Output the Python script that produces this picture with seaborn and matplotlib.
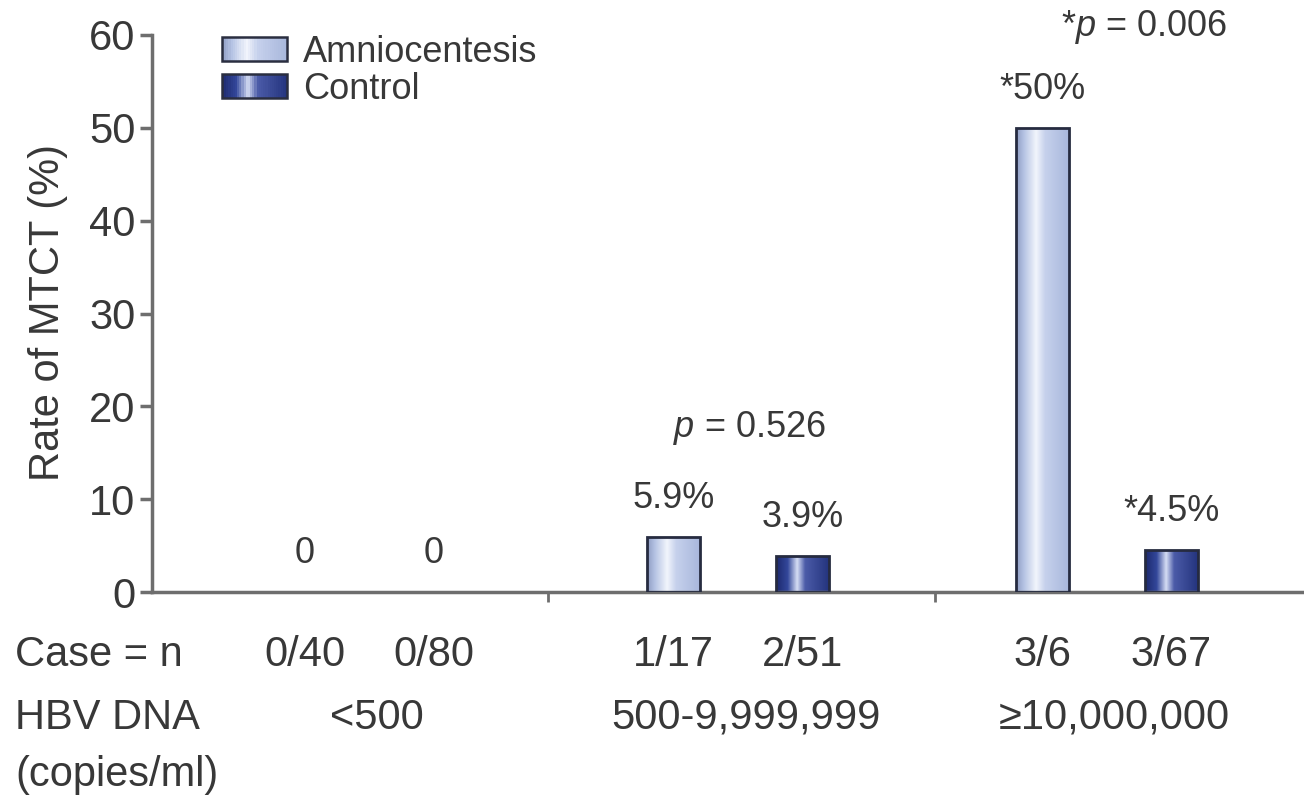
import numpy as np
import pandas as pd
import seaborn as sns
import matplotlib.pyplot as plt
from matplotlib.colors import LinearSegmentedColormap
from matplotlib.patches import Rectangle
from matplotlib.legend_handler import HandlerBase
from matplotlib.transforms import blended_transform_factory


groups = ['<500', '500-9,999,999', '≥10,000,000']
series = ['Amniocentesis', 'Control']
amnio_rate = [0, 5.9, 50]
control_rate = [0, 3.9, 4.5]
amnio_cases = ['0/40', '1/17', '3/6']
control_cases = ['0/80', '2/51', '3/67']
amnio_labels = ['0', '5.9%', '*50%']
control_labels = ['0', '3.9%', '*4.5%']
p_texts = [r'$\it{p}$ = 0.526', r'*$\it{p}$ = 0.006']

TXT = '#383838'
AX = '#6e6e6e'

amnio_cmap = LinearSegmentedColormap.from_list(
    'amnio', [(0, '#8e9cc2'), (0.15, '#b5c3e4'), (0.38, '#f2f5fc'),
              (0.55, '#c6d1ec'), (1, '#a8b7dc')])
control_cmap = LinearSegmentedColormap.from_list(
    'control', [(0, '#1c286c'), (0.22, '#33479a'), (0.4, '#d6def4'),
                (0.55, '#4b5ba8'), (1, '#24347e')])
cmaps = [amnio_cmap, control_cmap]


class GradientHandler(HandlerBase):
    def __init__(self, cmap):
        super().__init__()
        self.cmap = cmap

    def create_artists(self, legend, orig_handle, xdescent, ydescent,
                       width, height, fontsize, trans):
        n = 30
        arts = []
        for i in range(n):
            arts.append(Rectangle((-xdescent + width * i / n, -ydescent),
                                  width / n * 1.1, height,
                                  facecolor=self.cmap((i + 0.5) / n),
                                  edgecolor='none', transform=trans))
        arts.append(Rectangle((-xdescent, -ydescent), width, height,
                              facecolor='none', edgecolor='#2a2e40',
                              lw=1.8, transform=trans))
        return arts


sns.set_style('white')
plt.rcParams['font.family'] = ['Liberation Sans', 'DejaVu Sans']
plt.rcParams['mathtext.fontset'] = 'custom'
plt.rcParams['mathtext.it'] = 'Liberation Sans:italic'
plt.rcParams['mathtext.rm'] = 'Liberation Sans'

df = pd.DataFrame({
    'group': groups * 2,
    'series': [series[0]] * 3 + [series[1]] * 3,
    'rate': amnio_rate + control_rate,
})

fig = plt.figure(figsize=(13.04, 7.95), dpi=100)
ax = fig.add_axes([152 / 1304, 203 / 795, 1 - 152 / 1304, 557 / 795])

sns.barplot(df, x='group', y='rate', hue='series', hue_order=series,
            width=0.7, gap=0.59, ax=ax, legend=False,
            edgecolor='#262b40', linewidth=2)

# gradient fill clipped to each bar
for cont, cmap in zip(ax.containers, cmaps):
    for bar in cont:
        h = bar.get_height()
        if h <= 0:
            bar.set_visible(False)
            continue
        x0, w = bar.get_x(), bar.get_width()
        bar.set_facecolor('none')
        bar.set_zorder(3)
        grad = np.linspace(0, 1, 256)[None, :]
        im = ax.imshow(grad, extent=(x0, x0 + w, 0, h), cmap=cmap,
                       aspect='auto', zorder=2, interpolation='bilinear')
        im.set_clip_path(bar)

ax.set_xlim(-0.59, 2.535)
ax.set_ylim(0, 60)
ax.set_yticks(range(0, 61, 10))
ax.set_xticks([0.485, 1.535])
ax.set_xticklabels(['', ''])
ax.set_xlabel('')
ax.set_ylabel('')

for s in ['top', 'right']:
    ax.spines[s].set_visible(False)
for s in ['left', 'bottom']:
    ax.spines[s].set_color(AX)
    ax.spines[s].set_linewidth(2.5)
ax.tick_params(axis='y', length=9, width=2.5, color=AX, labelsize=30,
               labelcolor=TXT, pad=3, left=True)
ax.tick_params(axis='x', length=7, width=2, color=AX, bottom=True)

# value labels above bars
for cont, labs in zip(ax.containers, [amnio_labels, control_labels]):
    ax.bar_label(cont, labels=labs, padding=15, fontsize=26, color=TXT)

ax.text(1.03, 17.7, p_texts[0], fontsize=26, color=TXT, ha='center', va='center')
ax.text(2.10, 60.9, p_texts[1], fontsize=26, color=TXT, ha='center',
        va='center', clip_on=False)

# rows below the axis
trans = blended_transform_factory(ax.transData, fig.transFigure)
for cont, cases in zip(ax.containers, [amnio_cases, control_cases]):
    for bar, c in zip(cont, cases):
        ax.text(bar.get_x() + bar.get_width() / 2, 0.176, c, transform=trans,
                fontsize=30, color=TXT, ha='center', va='center')
for i, g in enumerate(groups):
    ax.text(i + 0.02, 0.097, g, transform=trans, fontsize=30, color=TXT,
            ha='center', va='center')

fig.text(15 / 1304, 0.176, 'Case = n', fontsize=30, color=TXT, va='center')
fig.text(15 / 1304, 0.097, 'HBV DNA', fontsize=30, color=TXT, va='center')
fig.text(15 / 1304, 0.025, '(copies/ml)', fontsize=30, color=TXT, va='center')
fig.text(48 / 1304, 0.607, 'Rate of MTCT (%)', fontsize=30, color=TXT,
         rotation=90, ha='center', va='center')

handles = [Rectangle((0, 0), 1, 1), Rectangle((0, 0), 1, 1)]
ax.legend(handles, series, loc='upper left',
          bbox_to_anchor=(222 / 1304, 1 - 35 / 795),
          bbox_transform=fig.transFigure, frameon=False, fontsize=26,
          handlelength=1.8, handleheight=0.66, handletextpad=0.45,
          labelspacing=0.05, borderpad=0, borderaxespad=0,
          labelcolor=TXT,
          handler_map={handles[0]: GradientHandler(amnio_cmap),
                       handles[1]: GradientHandler(control_cmap)})

fig.savefig('out.png', dpi=100)
